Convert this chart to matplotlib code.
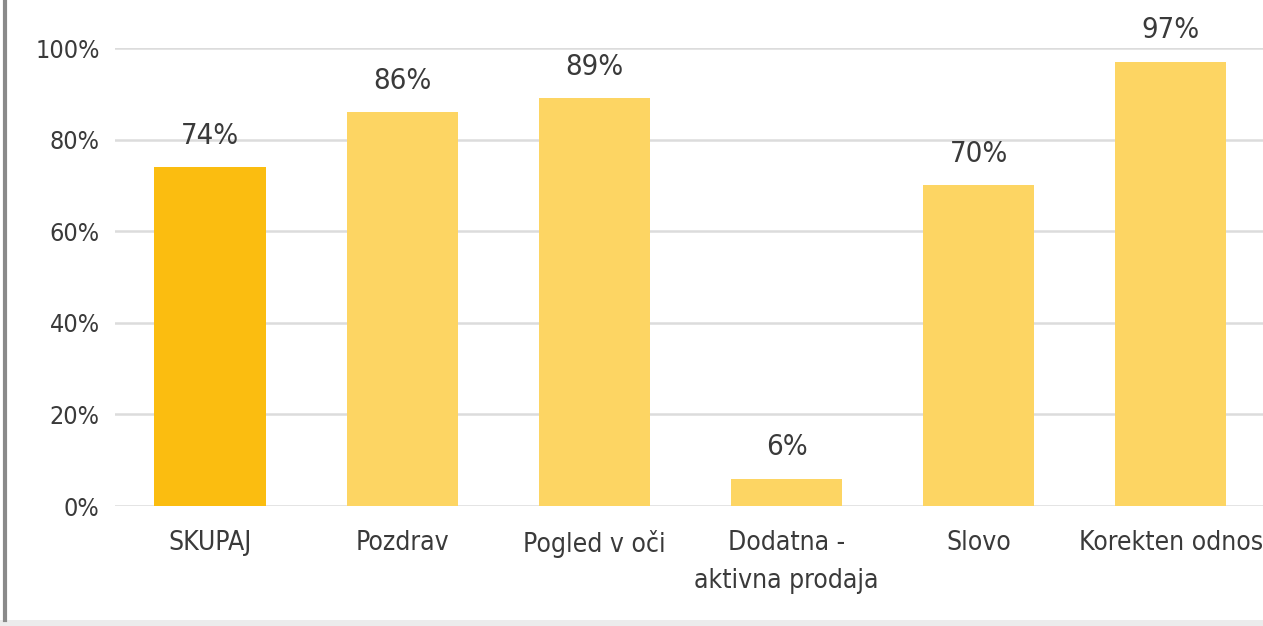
import matplotlib
matplotlib.use("Agg")
import matplotlib.pyplot as plt
from matplotlib.lines import Line2D
from matplotlib.patches import Rectangle

categories = ["SKUPAJ", "Pozdrav", "Pogled v oči", "Dodatna -\naktivna prodaja", "Slovo", "Korekten odnos"]
values = [74, 86, 89, 6, 70, 97]
y_ticks = [0, 20, 40, 60, 80, 100]

plt.rcParams['font.family'] = ['DejaVu Sans']
plt.rcParams['font.stretch'] = 'condensed'

text_col = '#3a3a3a'
bar_cols = ['#fbbd10'] + ['#fdd563'] * (len(values) - 1)

fig = plt.figure(figsize=(12.63, 6.26), dpi=100)
fig.patch.set_facecolor('white')
ax = fig.add_axes([115 / 1263, 1 - 506 / 626, 1 - 115 / 1263, (506 - 48) / 626])

x = list(range(len(categories)))
ax.bar(x, values, width=0.58, color=bar_cols, zorder=3)

for xi, v in zip(x, values):
    ax.text(xi, v + 3.8, f"{v}%", ha='center', va='bottom', fontsize=21,
            color=text_col, clip_on=False)

ax.set_xlim(-0.495, 5.48)
ax.set_ylim(0, 100)
ax.set_yticks(y_ticks)
ax.set_yticklabels([f"{t}%" for t in y_ticks])
ax.set_xticks(x)
ax.set_xticklabels(categories, linespacing=1.6)
ax.tick_params(axis='y', length=0, pad=11, labelsize=18, labelcolor=text_col)
ax.tick_params(axis='x', length=0, pad=17, labelsize=19, labelcolor=text_col)

ax.grid(axis='y', color='#dcdcdc', linewidth=1.8, zorder=0)
for s in ax.spines.values():
    s.set_visible(False)

# frame pieces around the panel
fig.add_artist(Line2D([5 / 1263, 5 / 1263], [6 / 626, 1], color='#8a8a8a', linewidth=3))
fig.add_artist(Rectangle((0, 0), 1, 6 / 626, color='#ececec', linewidth=0))

fig.savefig("out.png", dpi=100)
